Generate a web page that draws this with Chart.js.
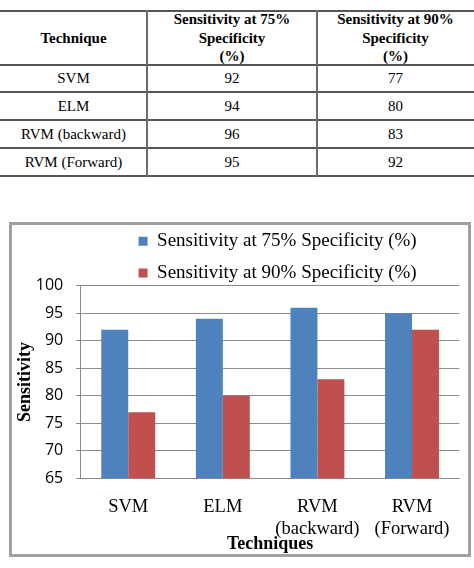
<!DOCTYPE html>
<html>
<head>
<meta charset="utf-8">
<script src="https://cdn.jsdelivr.net/npm/chart.js@4/dist/chart.umd.min.js"></script>
<style>
  html, body { margin: 0; padding: 0; background: #fff; }
  body { width: 474px; height: 568px; position: relative; overflow: hidden; }
  #tbl { position: absolute; left: 0; top: 0; width: 474px; height: 190px;
         font-family: "Liberation Serif", "Times New Roman", serif; color: #000; }
  .hl { position: absolute; left: 0; width: 474px; height: 2px; background: #555; }
  .vl { position: absolute; width: 2px; background: #6a6a6a; }
  .cell { position: absolute; display: flex; align-items: center; justify-content: center;
          text-align: center; font-size: 15px; line-height: 18.5px; }
  .hd { font-weight: bold; }
  #box { position: absolute; left: 9px; top: 222px; width: 462px; height: 335px;
         box-sizing: border-box; border: 3px solid #a0a0a0; background: #fff; }
  #wrap { position: absolute; left: 0; top: 0; width: 456px; height: 329px; }
</style>
</head>
<body>
<div id="tbl"></div>
<div id="box"><div id="wrap"><canvas id="c" width="456" height="329"></canvas></div></div>
<script>
// ---- data ----
const categories = ['SVM', 'ELM', 'RVM (backward)', 'RVM (Forward)'];
const xTickLabels = [['SVM'], ['ELM'], ['RVM', '(backward)'], ['RVM', '(Forward)']];
const seriesNames = ['Sensitivity at 75% Specificity (%)', 'Sensitivity at 90% Specificity (%)'];
const sens75 = [92, 94, 96, 95];
const sens90 = [77, 80, 83, 92];
const tableHeader = ['Technique', 'Sensitivity at 75%\nSpecificity\n(%)', 'Sensitivity at 90%\nSpecificity\n(%)'];
const yTicks = [65, 70, 75, 80, 85, 90, 95, 100];

// ---- table (built from the same arrays) ----
(function buildTable() {
  const tbl = document.getElementById('tbl');
  const lineY = [10, 64, 91, 119, 147, 175];
  const colX = [0, 147, 317, 474];
  lineY.forEach(y => {
    const d = document.createElement('div'); d.className = 'hl'; d.style.top = y + 'px'; tbl.appendChild(d);
  });
  [146, 316].forEach(x => {
    const d = document.createElement('div'); d.className = 'vl';
    d.style.left = x + 'px'; d.style.top = '10px'; d.style.height = '167px'; tbl.appendChild(d);
  });
  const rows = [tableHeader].concat(categories.map((c, i) => [c, String(sens75[i]), String(sens90[i])]));
  rows.forEach((r, ri) => {
    const top = lineY[ri] + 2, bottom = lineY[ri + 1];
    r.forEach((txt, ci) => {
      const d = document.createElement('div');
      d.className = 'cell' + (ri === 0 ? ' hd' : '');
      d.style.left = colX[ci] + 'px';
      d.style.width = (colX[ci + 1] - colX[ci]) + 'px';
      d.style.top = top + 'px';
      d.style.height = (bottom - top) + 'px';
      d.innerHTML = txt.split('\n').join('<br>');
      tbl.appendChild(d);
    });
  });
})();

// ---- chart ----
const BLUE = '#4F81BD', RED = '#C0504D', GRID = '#8c8c8c';
const LEGEND_H = 60.7, LEG_DY = -5.9, LEG_DX = 7.5;
const X_PAD = 17.4, Y_PAD = 12.7;

const legendTweak = {
  id: 'legendTweak',
  beforeUpdate(chart) {
    const lg = chart.legend;
    if (lg && !lg._tweaked) {
      lg._tweaked = true;
      const origFit = lg.fit;
      lg.fit = function () { origFit.call(this); if (this.isHorizontal()) this.height = LEGEND_H; };
    }
  },
  afterLayout(chart) {
    const lg = chart.legend; if (!lg) return;
    lg.top += LEG_DY; lg.left += LEG_DX; lg.right += LEG_DX;
  }
};

new Chart(document.getElementById('c'), {
  type: 'bar',
  data: {
    labels: xTickLabels,
    datasets: [
      { label: seriesNames[0], data: sens75, backgroundColor: BLUE, borderWidth: 0 },
      { label: seriesNames[1], data: sens90, backgroundColor: RED, borderWidth: 0 }
    ]
  },
  options: {
    responsive: false,
    animation: false,
    devicePixelRatio: 1,
    categoryPercentage: 0.57,
    barPercentage: 1.0,
    layout: { padding: { left: 2.2, right: 8, top: 0, bottom: 0.5 } },
    plugins: {
      tooltip: { enabled: false },
      legend: {
        position: 'top',
        align: 'center',
        fullSize: false,
        labels: {
          boxWidth: 9, boxHeight: 9, padding: 12.7, color: '#000',
          font: { family: "'Liberation Serif', 'Times New Roman', serif", size: 19 }
        }
      }
    },
    scales: {
      x: {
        grid: { display: false, drawTicks: false },
        border: { display: true, color: GRID, width: 1 },
        ticks: {
          color: '#000', padding: X_PAD, maxRotation: 0, autoSkip: false,
          font: { family: "'Liberation Serif', 'Times New Roman', serif", size: 18.5, lineHeight: 1.2 }
        },
        title: {
          display: true, text: 'Techniques', color: '#000',
          padding: { top: -4.6 - X_PAD, bottom: 0 },
          font: { family: "'Liberation Serif', 'Times New Roman', serif", size: 18, weight: 'bold', lineHeight: 1.0 }
        }
      },
      y: {
        min: 65, max: 100,
        afterBuildTicks(axis) { axis.ticks = yTicks.map(v => ({ value: v })); },
        grid: { color: GRID, lineWidth: 1, drawTicks: true, tickLength: 5 },
        border: { display: true, color: GRID, width: 1 },
        ticks: {
          color: '#000', padding: Y_PAD,
          font: { family: "'Open Sans', 'Liberation Sans', sans-serif", size: 16 }
        },
        title: {
          display: true, text: 'Sensitivity', color: '#000',
          padding: { top: 0, bottom: -Y_PAD },
          font: { family: "'Liberation Serif', 'Times New Roman', serif", size: 18, weight: 'bold', lineHeight: 1.2 }
        }
      }
    }
  },
  plugins: [legendTweak]
});
</script>
</body>
</html>
